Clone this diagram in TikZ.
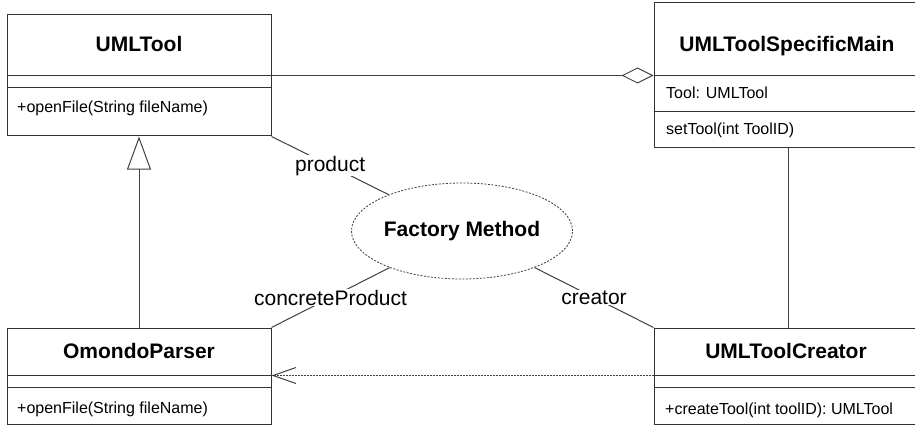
\documentclass[tikz,border=0pt]{standalone}
\usepackage{fontspec}
\setmainfont{Liberation Sans}
\usetikzlibrary{arrows.meta,shapes.geometric,calc}
\begin{document}
\begin{tikzpicture}[x=1pt,y=-1pt,
  classbox/.style={draw=black!80,line width=1pt,rectangle,inner sep=0pt,minimum width=264pt},
  sepline/.style={draw=black!80,line width=1pt},
  ctitle/.style={font=\fontsize{21}{24}\selectfont\bfseries,anchor=base,inner sep=0pt},
  member/.style={font=\fontsize{16}{19}\selectfont,anchor=base west,inner sep=0pt},
  rolelabel/.style={font=\fontsize{21}{24}\selectfont,fill=white,inner sep=1pt},
  link/.style={draw=black!75,line width=1pt},
  pattern/.style={ellipse,draw=black!75,dash pattern=on 2pt off 1.5pt,line width=0.8pt,
    minimum width=190pt,minimum height=96pt,inner sep=0pt,
    font=\fontsize{21}{24}\selectfont\bfseries}]
\useasboundingbox (0,0) rectangle (915,425);
\begin{scope}
\clip (0,0) rectangle (915,425);

% class boxes
\node[classbox,minimum height=121pt] (umltool) at (139,75.5) {};
\node[classbox,minimum height=144pt] (spec)    at (786,75) {};
\node[classbox,minimum height=96pt]  (omondo)  at (139,376) {};
\node[classbox,minimum height=96pt]  (creator) at (786,376) {};

% compartment separators
\coordinate (umltool-tl) at ($(umltool.north west)+(0,61)$);
\coordinate (umltool-tr) at ($(umltool.north east)+(0,61)$);
\draw[sepline] (umltool-tl) -- (umltool-tr);
\draw[sepline] ($(umltool.north west)+(0,73)$) -- ($(umltool.north east)+(0,73)$);

\coordinate (spec-tl) at ($(spec.north west)+(0,73)$);
\coordinate (spec-tr) at ($(spec.north east)+(0,73)$);
\draw[sepline] (spec-tl) -- (spec-tr);
\draw[sepline] ($(spec.north west)+(0,109)$) -- ($(spec.north east)+(0,109)$);

\coordinate (omondo-tl) at ($(omondo.north west)+(0,48)$);
\coordinate (omondo-tr) at ($(omondo.north east)+(0,48)$);
\draw[sepline] (omondo-tl) -- (omondo-tr);
\draw[sepline] ($(omondo.north west)+(0,60)$) -- ($(omondo.north east)+(0,60)$);

\coordinate (creator-tl) at ($(creator.north west)+(0,48)$);
\coordinate (creator-tr) at ($(creator.north east)+(0,48)$);
\draw[sepline] (creator-tl) -- (creator-tr);
\draw[sepline] ($(creator.north west)+(0,60)$) -- ($(creator.north east)+(0,60)$);

% class names
\node[ctitle] (umltool-name) at (139,52) {UMLTool};
\node[ctitle] (spec-name)    at (787,52) {UMLToolSpecificMain};
\node[ctitle] (omondo-name)  at (139,358) {OmondoParser};
\node[ctitle] (creator-name) at (786,358) {UMLToolCreator};

% members
\node[member] (umltool-op) at (17,113)  {+openFile(String fileName)};
\node[member] (spec-attr)  at (666,99)  {Tool: UMLTool};
\node[member] (spec-op)    at (666,135) {setTool(int ToolID)};
\node[member] (omondo-op)  at (17,413)  {+openFile(String fileName)};
\node[member] (creator-op) at (665,414) {+createTool(int toolID): UMLTool};

% pattern collaboration
\node[pattern] (fm) at (462,231) {Factory Method};

% relations
\draw[link,-{Diamond[open,length=32pt,width=16pt,line width=1pt]}] (umltool-tr) -- (spec-tl);
\draw[link,-{Triangle[open,length=33pt,width=24pt,line width=1pt]}] (omondo.north) -- (umltool.south);
\draw[link] ($(spec.south)+(2,0)$) -- ($(creator.north)+(2,0)$);
\draw[link,line width=0.8pt,dash pattern=on 2pt off 1pt,
  -{Straight Barb[length=23pt,width=16pt,line width=1pt]}] (creator-tl) -- (omondo-tr);

% pattern roles
\draw[link] (umltool.south east) -- node[rolelabel] (role-product) {product} (fm);
\draw[link] (omondo.north east) -- node[rolelabel] (role-concrete) {concreteProduct} (fm);
\draw[link] (creator.north west) -- node[rolelabel] (role-creator) {creator} (fm);
\end{scope}
\end{tikzpicture}
\end{document}
